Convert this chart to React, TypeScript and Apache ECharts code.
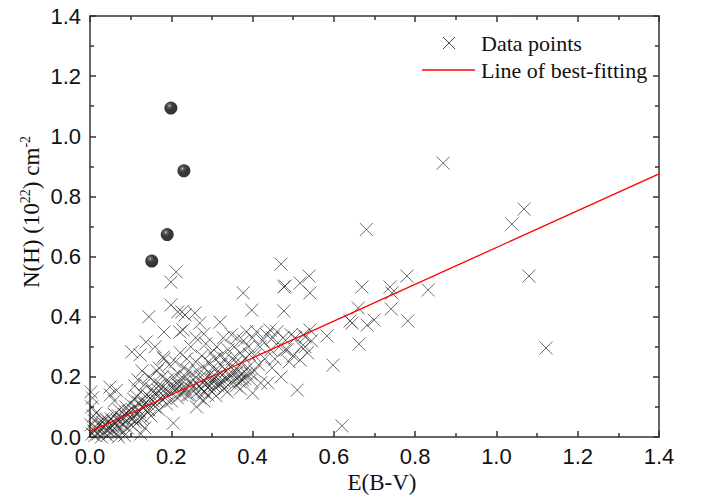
import React, { useEffect, useRef } from "react";
import * as echarts from "echarts";

// Data points: [E(B-V), N(H) in 1e22 cm^-2]
const dataPoints: number[][] = [
  [0.005,0.01],[0.01,0.02],[0.012,0.005],[0.015,0.03],[0.02,0.01],[0.02,0.045],[0.025,0.02],[0.028,0.0],
  [0.03,0.035],[0.032,0.06],[0.035,0.015],[0.038,0.04],[0.04,0.025],[0.042,0.005],[0.045,0.05],[0.048,0.03],
  [0.05,0.015],[0.003,0.04],[0.008,0.07],[0.006,0.13],[0.004,0.1],[0.015,0.08],[0.002,0.15],[0.01,0.055],
  [0.052,0.06],[0.055,0.035],[0.058,0.02],[0.06,0.075],[0.062,0.045],[0.065,0.01],[0.068,0.055],[0.07,0.03],
  [0.072,0.09],[0.075,0.05],[0.078,0.065],[0.08,0.02],[0.082,0.04],[0.085,0.075],[0.088,0.1],[0.09,0.055],
  [0.092,0.03],[0.095,0.085],[0.098,0.065],[0.1,0.11],[0.05,0.14],[0.049,0.166],[0.06,0.12],[0.065,0.155],
  [0.07,0.0],[0.085,0.005],
  [0.102,0.04],[0.105,0.09],[0.108,0.125],[0.11,0.07],[0.112,0.1],[0.115,0.135],[0.118,0.05],[0.12,0.115],
  [0.122,0.085],[0.125,0.15],[0.128,0.1],[0.13,0.065],[0.132,0.12],[0.135,0.175],[0.138,0.09],[0.14,0.14],
  [0.142,0.11],[0.145,0.2],[0.148,0.13],[0.15,0.07],[0.103,0.283],[0.123,0.273],[0.138,0.316],[0.145,0.4],
  [0.128,0.22],[0.118,0.19],[0.11,0.17],[0.135,0.03],[0.125,0.01],
  [0.152,0.16],[0.155,0.12],[0.158,0.185],[0.16,0.1],[0.162,0.14],[0.165,0.22],[0.168,0.155],[0.17,0.09],
  [0.172,0.175],[0.175,0.13],[0.178,0.2],[0.18,0.266],[0.182,0.26],[0.185,0.16],[0.188,0.11],[0.19,0.19],
  [0.192,0.14],[0.195,0.24],[0.198,0.17],[0.2,0.12],[0.205,0.046],[0.182,0.349],[0.199,0.439],[0.199,0.515],
  [0.212,0.549],[0.16,0.3],[0.17,0.23],
  [0.205,0.2],[0.208,0.155],[0.21,0.25],[0.212,0.18],[0.215,0.13],[0.218,0.21],[0.22,0.17],[0.221,0.349],
  [0.216,0.416],[0.222,0.28],[0.225,0.19],[0.228,0.15],[0.229,0.356],[0.226,0.416],[0.23,0.23],[0.232,0.17],
  [0.234,0.406],[0.235,0.2],[0.238,0.26],[0.24,0.14],[0.242,0.22],[0.245,0.18],[0.248,0.3],[0.25,0.16],
  [0.252,0.21],[0.255,0.19],[0.258,0.412],[0.26,0.25],[0.262,0.1],[0.265,0.22],[0.268,0.17],[0.27,0.379],
  [0.272,0.2],[0.275,0.27],[0.278,0.18],[0.28,0.15],[0.282,0.23],[0.285,0.31],[0.288,0.2],[0.29,0.165],
  [0.292,0.25],[0.295,0.21],[0.298,0.28],[0.3,0.19],[0.26,0.33],[0.28,0.343],
  [0.302,0.23],[0.305,0.17],[0.308,0.26],[0.31,0.2],[0.312,0.3],[0.315,0.22],[0.318,0.18],[0.32,0.382],
  [0.32,0.27],[0.322,0.24],[0.325,0.205],[0.328,0.33],[0.33,0.185],[0.332,0.26],[0.335,0.22],[0.338,0.15],
  [0.34,0.29],[0.342,0.24],[0.345,0.2],[0.348,0.34],[0.35,0.26],[0.31,0.137],
  [0.352,0.21],[0.355,0.3],[0.358,0.19],[0.36,0.25],[0.362,0.33],[0.365,0.22],[0.368,0.185],[0.37,0.28],
  [0.372,0.245],[0.375,0.21],[0.377,0.479],[0.378,0.32],[0.38,0.195],[0.382,0.26],[0.385,0.35],[0.388,0.23],
  [0.39,0.3],[0.392,0.275],[0.395,0.21],[0.398,0.422],[0.4,0.146],[0.4,0.33],
  [0.405,0.27],[0.41,0.35],[0.415,0.24],[0.418,0.3],[0.42,0.18],[0.425,0.32],[0.43,0.26],[0.435,0.34],
  [0.438,0.18],[0.443,0.356],[0.445,0.29],[0.448,0.23],
  [0.45,0.33],[0.455,0.26],[0.46,0.35],[0.465,0.3],[0.47,0.575],[0.475,0.33],[0.477,0.499],[0.477,0.419],
  [0.48,0.29],[0.485,0.29],[0.49,0.25],[0.495,0.34],[0.5,0.27],[0.48,0.502],[0.47,0.2],
  [0.505,0.33],[0.51,0.156],[0.517,0.512],[0.517,0.256],[0.52,0.3],[0.525,0.34],[0.529,0.3],[0.53,0.333],
  [0.535,0.28],[0.539,0.535],[0.541,0.479],[0.541,0.356],[0.545,0.32],
  [0.583,0.336],[0.598,0.239],[0.62,0.037],[0.64,0.386],[0.645,0.379],[0.66,0.429],[0.662,0.309],[0.669,0.499],
  [0.682,0.372],[0.68,0.69],[0.699,0.389],[0.738,0.499],[0.743,0.479],[0.741,0.426],[0.78,0.535],[0.782,0.386],
  [0.832,0.489],[0.869,0.911],[1.038,0.708],[1.068,0.758],[1.08,0.535],[1.122,0.296],
  [0.105,0.06],[0.115,0.08],[0.125,0.06],[0.135,0.11],[0.145,0.09],[0.155,0.15],[0.165,0.12],[0.175,0.16],
  [0.185,0.13],[0.195,0.15],[0.205,0.17],[0.215,0.16],[0.225,0.14],[0.235,0.16],[0.245,0.14],[0.255,0.17],
  [0.265,0.15],[0.275,0.16],[0.285,0.18],[0.295,0.17],[0.305,0.19],[0.315,0.17],[0.325,0.18],[0.335,0.2],
  [0.345,0.18],[0.355,0.22],[0.365,0.2],[0.375,0.19],[0.385,0.21],[0.395,0.19],[0.405,0.22],[0.36,0.17],
  [0.37,0.16],[0.33,0.16],[0.3,0.15],[0.27,0.13],[0.28,0.12],[0.29,0.14],[0.08,0.06],[0.09,0.08],
  [0.07,0.07],[0.06,0.05],[0.04,0.06],[0.03,0.05],[0.11,0.05]
];

// Highlighted outliers (black spheres)
const outlierPoints: number[][] = [
  [0.152, 0.585],
  [0.19, 0.673],
  [0.199, 1.094],
  [0.231, 0.885],
];

// Best-fitting line endpoints
const fitX = [0, 1.4];
const fitY = [0.018, 0.875];

const axisTicks = [0, 0.2, 0.4, 0.6, 0.8, 1.0, 1.2, 1.4];

const CROSS = "path://M0,0L10,10M10,0L0,10";
const SERIF = "Liberation Serif, Times New Roman, serif";

export default function App() {
  const ref = useRef<HTMLDivElement>(null);
  useEffect(() => {
    if (!ref.current) return;
    const chart = echarts.init(ref.current, null, { renderer: "svg" });
    const axisColor = "#333";
    const fmt = (v: number) => v.toFixed(1);
    const baseAxis = {
      type: "value" as const,
      min: axisTicks[0],
      max: axisTicks[axisTicks.length - 1],
      interval: 0.2,
      axisLine: { show: true, onZero: false, lineStyle: { color: axisColor, width: 1.5 } },
      axisTick: { show: true, inside: true, length: 6, lineStyle: { color: axisColor, width: 1.5 } },
      minorTick: { show: true, splitNumber: 2, length: 4, lineStyle: { color: axisColor, width: 1.5 } },
      splitLine: { show: false },
    };
    const labelStyle = {
      fontFamily: "Liberation Sans, Arial, sans-serif",
      fontSize: 22,
      color: "#111",
    };
    chart.setOption({
      animation: false,
      grid: { left: 90, right: 45, top: 16, bottom: 63, outerBoundsMode: "none", containLabel: false },
      xAxis: [
        {
          ...baseAxis,
          position: "bottom",
          axisLabel: { ...labelStyle, formatter: fmt, margin: 8 },
        },
        {
          ...baseAxis,
          position: "top",
          axisLabel: { show: false },
        },
      ],
      yAxis: [
        {
          ...baseAxis,
          position: "left",
          axisLabel: { ...labelStyle, formatter: fmt, margin: 9 },
        },
        {
          ...baseAxis,
          position: "right",
          axisLabel: { show: false },
        },
      ],
      graphic: [
        {
          type: "text", x: 382, y: 482,
          style: { text: "E(B-V)", fontFamily: SERIF, fontSize: 23, fill: "#111", align: "center", verticalAlign: "middle" },
        },
        {
          type: "text", x: 31, y: 212, rotation: Math.PI / 2,
          style: {
            text: "{a|N(H) (10}{s|22}{a|) cm}{s|-2}",
            align: "center",
            verticalAlign: "middle",
            rich: {
              a: { fontFamily: SERIF, fontSize: 23, lineHeight: 26, fill: "#111" },
              s: { fontFamily: SERIF, fontSize: 14, lineHeight: 14, verticalAlign: "top", fill: "#111" },
            },
          },
        },
        { type: "line", shape: { x1: 422, y1: 70, x2: 475, y2: 70 }, style: { stroke: "#ff0000", lineWidth: 1.3 } },
        { type: "line", shape: { x1: 443, y1: 37, x2: 455, y2: 49 }, style: { stroke: "#444", lineWidth: 1 } },
        { type: "line", shape: { x1: 455, y1: 37, x2: 443, y2: 49 }, style: { stroke: "#444", lineWidth: 1 } },
        {
          type: "text", x: 481, y: 43,
          style: { text: "Data points", fontFamily: SERIF, fontSize: 22, fill: "#111", verticalAlign: "middle" },
        },
        {
          type: "text", x: 481, y: 70,
          style: { text: "Line of best-fitting", fontFamily: SERIF, fontSize: 22, fill: "#111", verticalAlign: "middle" },
        },
      ],
      series: [
        {
          type: "scatter",
          data: dataPoints,
          symbol: CROSS,
          symbolSize: 13,
          itemStyle: { color: "rgba(0,0,0,0)", borderColor: "rgba(25,25,25,0.8)", borderWidth: 1 },
          z: 2,
        },
        {
          type: "line",
          data: fitX.map((x, i) => [x, fitY[i]]),
          showSymbol: false,
          symbol: "none",
          lineStyle: { color: "#ff0000", width: 1.3 },
          z: 3,
        },
        {
          type: "scatter",
          data: outlierPoints,
          symbol: "circle",
          symbolSize: 13,
          itemStyle: {
            color: new echarts.graphic.RadialGradient(0.38, 0.32, 0.65, [
              { offset: 0, color: "#d0d0d0" },
              { offset: 0.15, color: "#444" },
              { offset: 0.45, color: "#0a0a0a" },
              { offset: 1, color: "#000" },
            ]),
          },
          z: 4,
        },
      ],
    });
    return () => chart.dispose();
  }, []);
  return <div ref={ref} style={{ width: 704, height: 500, position: "absolute", left: 0, top: 0 }} />;
}
